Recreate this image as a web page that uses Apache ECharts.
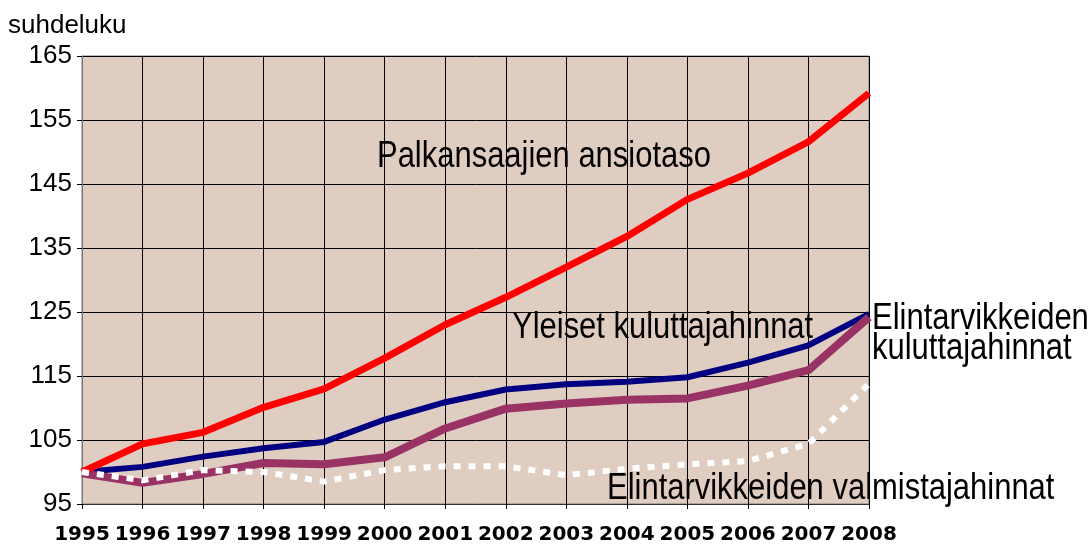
<!DOCTYPE html>
<html>
<head>
<meta charset="utf-8">
<script src="https://cdn.jsdelivr.net/npm/echarts@6/dist/echarts.min.js"></script>
<style>
  html, body { margin: 0; padding: 0; background: #fff; }
  #chart { width: 1092px; height: 545px; }
</style>
</head>
<body>
<div id="chart"></div>
<script>
const years = ['1995', '1996', '1997', '1998', '1999', '2000', '2001',
  '2002', '2003', '2004', '2005', '2006', '2007', '2008'];

// Palkansaajien ansiotaso
const ansiotaso = [100, 104.4, 106.2, 110.1, 113.0, 117.8, 123.0,
  127.3, 132.0, 136.8, 142.6, 146.7, 151.6, 159.2];
// Yleiset kuluttajahinnat
const yleiset = [100, 100.8, 102.4, 103.7, 104.7, 108.2, 110.9,
  112.9, 113.7, 114.1, 114.8, 117.1, 119.8, 124.7];
// Elintarvikkeiden kuluttajahinnat
const elintKulutt = [99.8, 98.3, 99.7, 101.4, 101.2, 102.3, 106.8,
  109.9, 110.7, 111.3, 111.5, 113.5, 115.9, 124.2];
// Elintarvikkeiden valmistajahinnat
const elintValm = [100, 98.7, 100.3, 100.0, 98.5, 100.3, 100.9,
  100.9, 99.5, 100.5, 101.2, 101.7, 104.4, 113.8];

const yTicks = { min: 95, max: 165, step: 10 };

const sans = '"Liberation Sans", Arial, sans-serif';

const chart = echarts.init(document.getElementById('chart'));

// Arial Narrow look-alike: Liberation Sans squeezed horizontally
const label = (text, x, y) => ({
  type: 'text',
  x, y,
  scaleX: 0.86,
  style: {
    text, fontFamily: sans, fontSize: 36, fill: '#000',
    verticalAlign: 'middle', align: 'left'
  }
});

chart.setOption({
  animation: false,
  grid: {
    left: 82, right: 223, top: 56, bottom: 41,
    show: true,
    backgroundColor: '#E0CDC2',
    borderColor: '#777',
    borderWidth: 1
  },
  xAxis: {
    type: 'category',
    data: years,
    boundaryGap: false,
    axisLine: { lineStyle: { color: '#333', width: 1 } },
    axisTick: { show: true, length: 5, interval: 0, lineStyle: { color: '#000' } },
    axisLabel: {
      interval: 0, margin: 21, color: '#000',
      fontFamily: '"DejaVu Sans", sans-serif',
      fontWeight: 'bold', fontSize: 20
    },
    splitLine: { show: true, interval: 0, lineStyle: { color: '#000', width: 1 } }
  },
  yAxis: {
    type: 'value',
    min: yTicks.min, max: yTicks.max, interval: yTicks.step,
    axisLine: { show: true, lineStyle: { color: '#777' } },
    axisTick: { show: true, length: 5, lineStyle: { color: '#000' } },
    axisLabel: { color: '#000', fontFamily: sans, fontSize: 26, margin: 10 },
    splitLine: { show: true, lineStyle: { color: '#000', width: 1 } }
  },
  series: [
    {
      name: 'Yleiset kuluttajahinnat', type: 'line', data: yleiset,
      symbol: 'none', lineStyle: { color: '#000080', width: 6 }
    },
    {
      name: 'Elintarvikkeiden kuluttajahinnat', type: 'line', data: elintKulutt,
      symbol: 'none', lineStyle: { color: '#993366', width: 8 }
    },
    {
      name: 'Palkansaajien ansiotaso', type: 'line', data: ansiotaso,
      symbol: 'none', lineStyle: { color: '#FF0000', width: 7 }
    },
    {
      name: 'Elintarvikkeiden valmistajahinnat', type: 'line', data: elintValm,
      symbol: 'none', lineStyle: { color: '#FFFFFF', width: 6, type: [7, 8], cap: 'butt' }
    }
  ],
  graphic: [
    {
      type: 'text', x: 8, y: 26,
      style: { text: 'suhdeluku', fontFamily: sans, fontSize: 26, fill: '#000', verticalAlign: 'middle' }
    },
    label('Palkansaajien ansiotaso', 377, 157),
    label('Yleiset kuluttajahinnat', 512, 328),
    label('Elintarvikkeiden', 872, 319),
    label('kuluttajahinnat', 872, 349),
    label('Elintarvikkeiden valmistajahinnat', 607, 489)
  ]
});
</script>
</body>
</html>
